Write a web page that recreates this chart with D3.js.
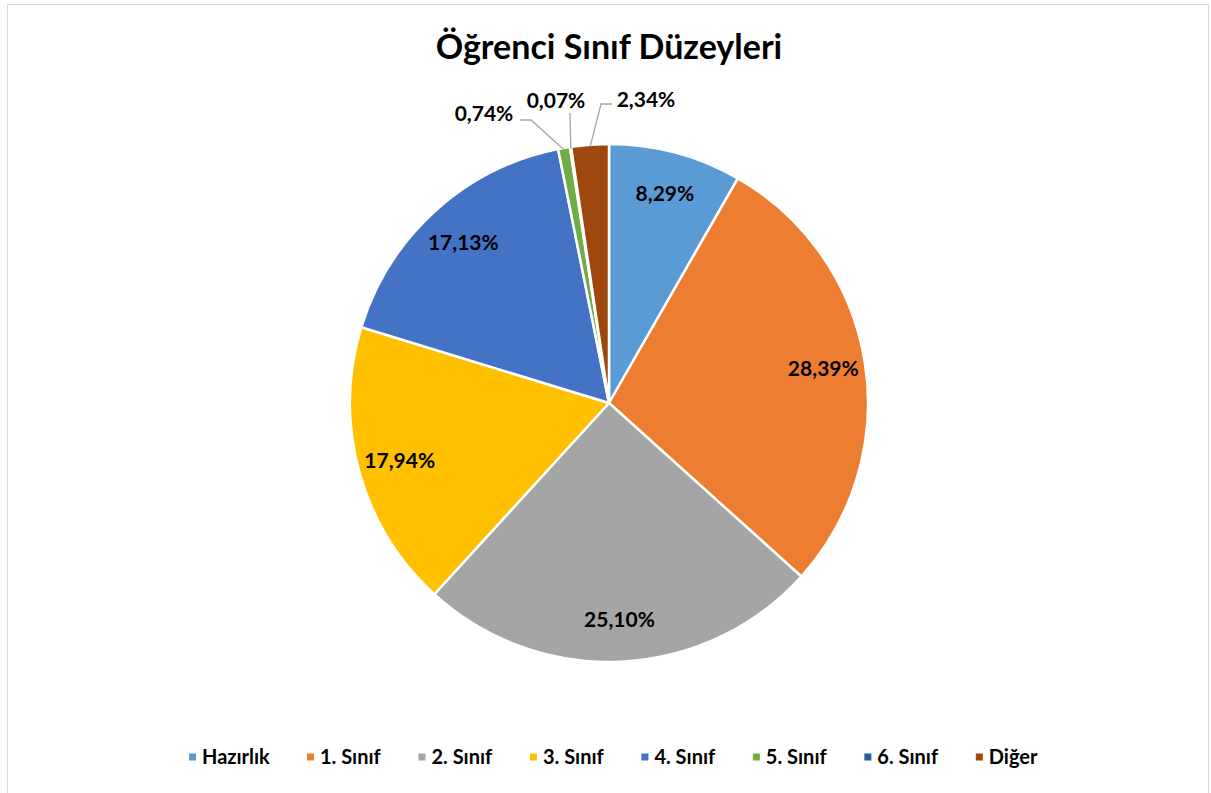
<!DOCTYPE html>
<html>
<head>
<meta charset="utf-8">
<script src="https://cdn.jsdelivr.net/npm/d3@7"></script>
<style>
  body { margin: 0; background: #fff; }
  text { font-family: "Lato", "Open Sans", sans-serif; font-weight: bold; fill: #000; }
</style>
</head>
<body>
<div id="chart"></div>
<script>
// --- Data ---
const categories = ["Hazırlık", "1. Sınıf", "2. Sınıf", "3. Sınıf", "4. Sınıf", "5. Sınıf", "6. Sınıf", "Diğer"];
const values = [8.29, 28.39, 25.10, 17.94, 17.13, 0.74, 0.07, 2.34];
const labels = ["8,29%", "28,39%", "25,10%", "17,94%", "17,13%", "0,74%", "0,07%", "2,34%"];
const colors = ["#5B9BD5", "#ED7D31", "#A5A5A5", "#FFC000", "#4472C4", "#70AD47", "#255E91", "#9E480E"];

const width = 1211, height = 793;
const cx = 609, cy = 403, R = 259;

const svg = d3.select("#chart").append("svg")
    .attr("width", width)
    .attr("height", height);

// frame
svg.append("rect")
    .attr("x", 7.5).attr("y", 4.5)
    .attr("width", 1201).attr("height", 800)
    .attr("fill", "#fff")
    .attr("stroke", "#d9d9d9")
    .attr("stroke-width", 1);

svg.append("text")
    .attr("x", cx).attr("y", 59)
    .attr("text-anchor", "middle")
    .style("font-size", "34px")
    .text("Öğrenci Sınıf Düzeyleri");

const pie = d3.pie().sort(null).value(d => d);
const arcs = pie(values);
const arc = d3.arc().innerRadius(0).outerRadius(R);
const labelArc = d3.arc().innerRadius(217).outerRadius(217);

const g = svg.append("g").attr("transform", `translate(${cx},${cy})`);

g.selectAll("path")
    .data(arcs)
    .join("path")
    .attr("d", arc)
    .attr("fill", (d, i) => colors[i])
    .attr("stroke", "#fff")
    .attr("stroke-width", 2.5)
    .attr("stroke-linejoin", "round");

// inside labels for the large slices
const inside = arcs.filter(d => d.value > 5);
g.selectAll("text.in")
    .data(inside)
    .join("text")
    .attr("class", "in")
    .attr("transform", d => `translate(${labelArc.centroid(d)})`)
    .attr("text-anchor", "middle")
    .attr("dy", "0.36em")
    .style("font-size", "21px")
    .text(d => labels[d.index]);

// outside labels with leader lines for the small slices
const outside = {
    5: { tx: 484, ty: 113, line: [[520, 120], [531, 120]] },
    6: { tx: 556, ty: 100, line: [[570, 113]] },
    7: { tx: 646, ty: 99, line: [[612, 104], [601, 104]] }
};
arcs.filter(d => d.value <= 5).forEach(d => {
    const o = outside[d.index];
    const mid = (d.startAngle + d.endAngle) / 2;
    const ex = cx + (R - 2) * Math.sin(mid), ey = cy - (R - 2) * Math.cos(mid);
    const pts = o.line.concat([[ex, ey]]);
    svg.append("path")
        .attr("d", d3.line()(pts))
        .attr("fill", "none")
        .attr("stroke", "#a6a6a6")
        .attr("stroke-width", 1.3);
    svg.append("text")
        .attr("x", o.tx).attr("y", o.ty)
        .attr("text-anchor", "middle")
        .attr("dy", "0.36em")
        .style("font-size", "21px")
        .text(labels[d.index]);
});

// --- Legend ---
const legend = svg.append("g");
const items = legend.selectAll("g")
    .data(categories)
    .join("g");
items.append("rect")
    .attr("width", 7).attr("height", 7)
    .attr("y", -3.5)
    .attr("fill", (d, i) => colors[i]);
items.append("text")
    .attr("x", 13)
    .attr("dy", "0.36em")
    .style("font-size", "20px")
    .text(d => d);

// spread items between x=189 and x=1038 like the original
const widths = [];
items.each(function () { widths.push(this.getBBox().width); });
const span = 1038 - 189;
const gap = (span - d3.sum(widths)) / (widths.length - 1);
let xpos = 189;
items.each(function (d, i) {
    d3.select(this).attr("transform", `translate(${xpos},757)`);
    xpos += widths[i] + gap;
});
</script>
</body>
</html>
